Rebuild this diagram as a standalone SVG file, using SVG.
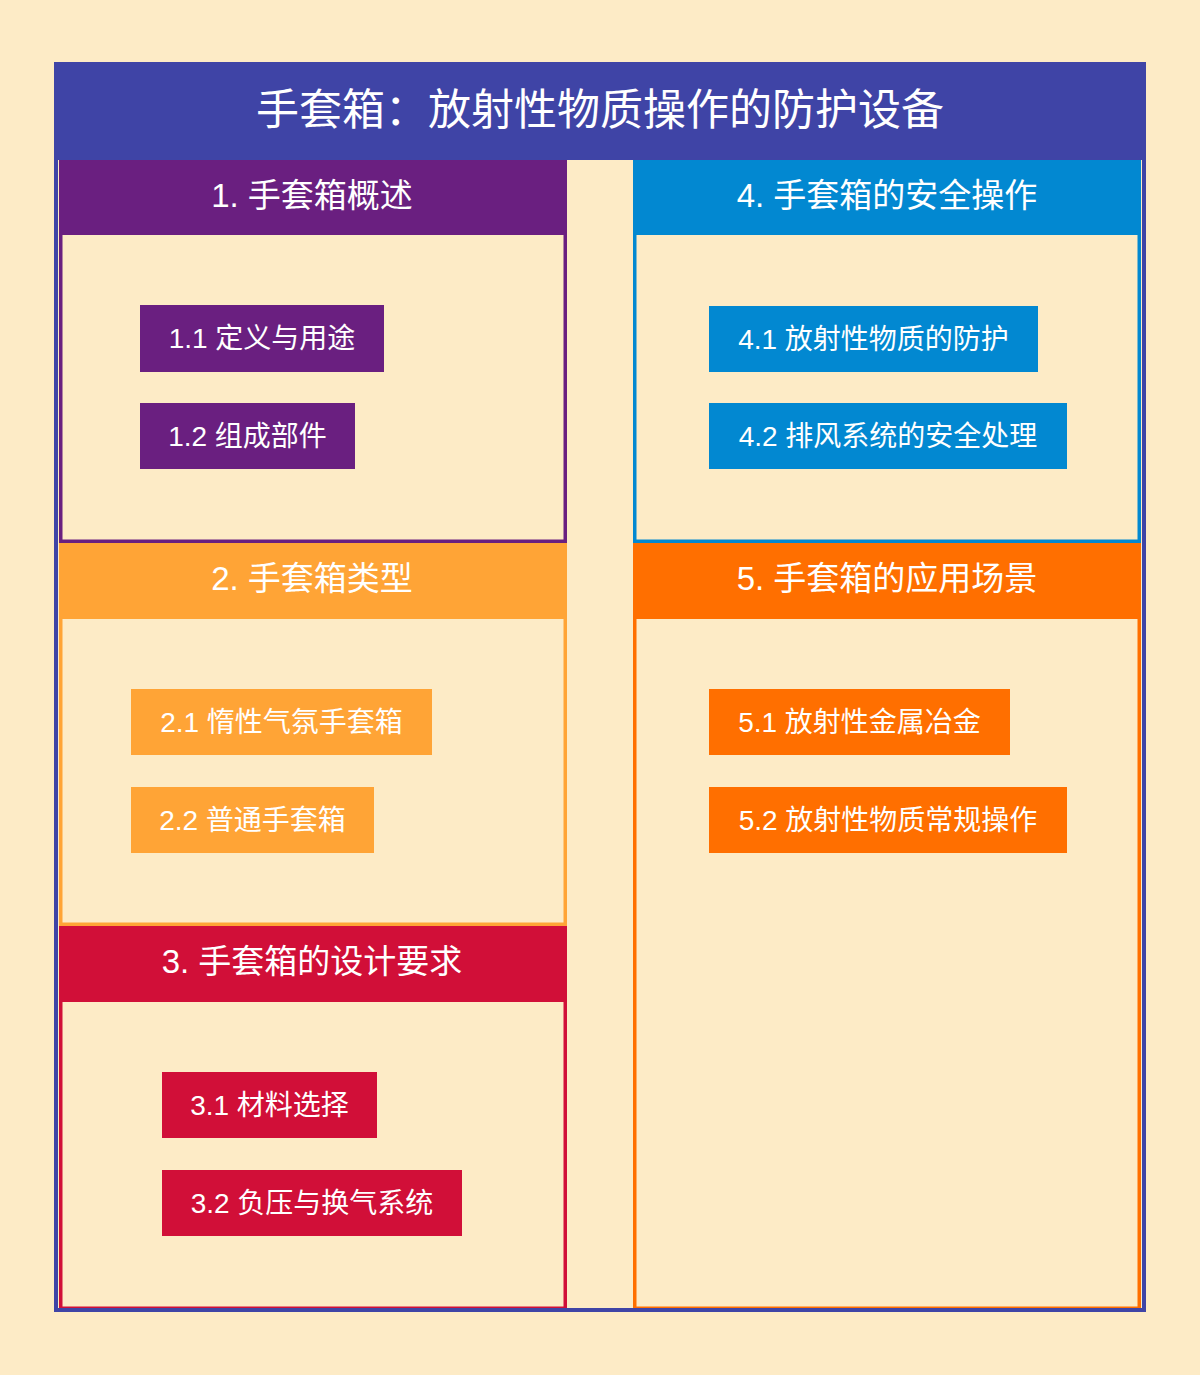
<svg xmlns="http://www.w3.org/2000/svg" width="1200" height="1375" viewBox="0 0 1200 1375">
<style>
text{font-family:"Liberation Sans","Noto Sans CJK SC",sans-serif;fill:#FFFFFF;text-anchor:middle}
.title{font-size:43px}
.head{font-size:33px}
.item{font-size:28px}
.sec{fill:#FDEBC6;stroke-width:3.5}
.c1{fill:#6A1F80}.s1{stroke:#6A1F80}
.c2{fill:#FFA436}.s2{stroke:#FFA436}
.c3{fill:#D10F38}.s3{stroke:#D10F38}
.c4{fill:#0288D1}.s4{stroke:#0288D1}
.c5{fill:#FF6F00}.s5{stroke:#FF6F00}
</style>
<rect x="0" y="0" width="1200" height="1375" fill="#FDEBC6"/>
<g id="title">
<rect x="56" y="62" width="1088" height="98" fill="#3F44A6"/>
<text class="title" x="600" y="125">手套箱：放射性物质操作的防护设备</text>
</g>
<g id="section1">
<rect class="sec s1" x="60.75" y="161.75" width="504.5" height="379.5"/>
<rect class="c1" x="59" y="160" width="508" height="75"/>
<text class="head" x="312" y="207">1. 手套箱概述</text>
</g>
<g id="section2">
<rect class="sec s2" x="60.75" y="544.75" width="504.5" height="379.5"/>
<rect class="c2" x="59" y="543" width="508" height="76"/>
<text class="head" x="312" y="590">2. 手套箱类型</text>
</g>
<g id="section3">
<rect class="sec s3" x="60.75" y="927.75" width="504.5" height="380.5"/>
<rect class="c3" x="59" y="926" width="508" height="76"/>
<text class="head" x="312" y="973">3. 手套箱的设计要求</text>
</g>
<g id="section4">
<rect class="sec s4" x="634.75" y="161.75" width="504.5" height="379.5"/>
<rect class="c4" x="633" y="160" width="508" height="75"/>
<text class="head" x="887" y="207">4. 手套箱的安全操作</text>
</g>
<g id="section5">
<rect class="sec s5" x="634.75" y="544.75" width="504.5" height="763.5"/>
<rect class="c5" x="633" y="543" width="508" height="76"/>
<text class="head" x="887" y="590">5. 手套箱的应用场景</text>
</g>
<g id="item1-1"><rect class="c1" x="140" y="305" width="244" height="67"/><text class="item" x="262" y="348">1.1 定义与用途</text></g>
<g id="item1-2"><rect class="c1" x="140" y="403" width="215" height="66"/><text class="item" x="247.5" y="446">1.2 组成部件</text></g>
<g id="item2-1"><rect class="c2" x="131" y="689" width="301" height="66"/><text class="item" x="281.5" y="732">2.1 惰性气氛手套箱</text></g>
<g id="item2-2"><rect class="c2" x="131" y="787" width="243" height="66"/><text class="item" x="252.5" y="830">2.2 普通手套箱</text></g>
<g id="item3-1"><rect class="c3" x="162" y="1072" width="215" height="66"/><text class="item" x="269.5" y="1115">3.1 材料选择</text></g>
<g id="item3-2"><rect class="c3" x="162" y="1170" width="300" height="66"/><text class="item" x="312" y="1213">3.2 负压与换气系统</text></g>
<g id="item4-1"><rect class="c4" x="709" y="306" width="329" height="66"/><text class="item" x="873.5" y="349">4.1 放射性物质的防护</text></g>
<g id="item4-2"><rect class="c4" x="709" y="403" width="358" height="66"/><text class="item" x="888" y="446">4.2 排风系统的安全处理</text></g>
<g id="item5-1"><rect class="c5" x="709" y="689" width="301" height="66"/><text class="item" x="859.5" y="732">5.1 放射性金属冶金</text></g>
<g id="item5-2"><rect class="c5" x="709" y="787" width="358" height="66"/><text class="item" x="888" y="830">5.2 放射性物质常规操作</text></g>
<g id="connectors"></g>
<g id="frame">
<rect x="56" y="64" width="1088" height="1246" fill="none" stroke="#3F44A6" stroke-width="4"/>
</g>
</svg>
